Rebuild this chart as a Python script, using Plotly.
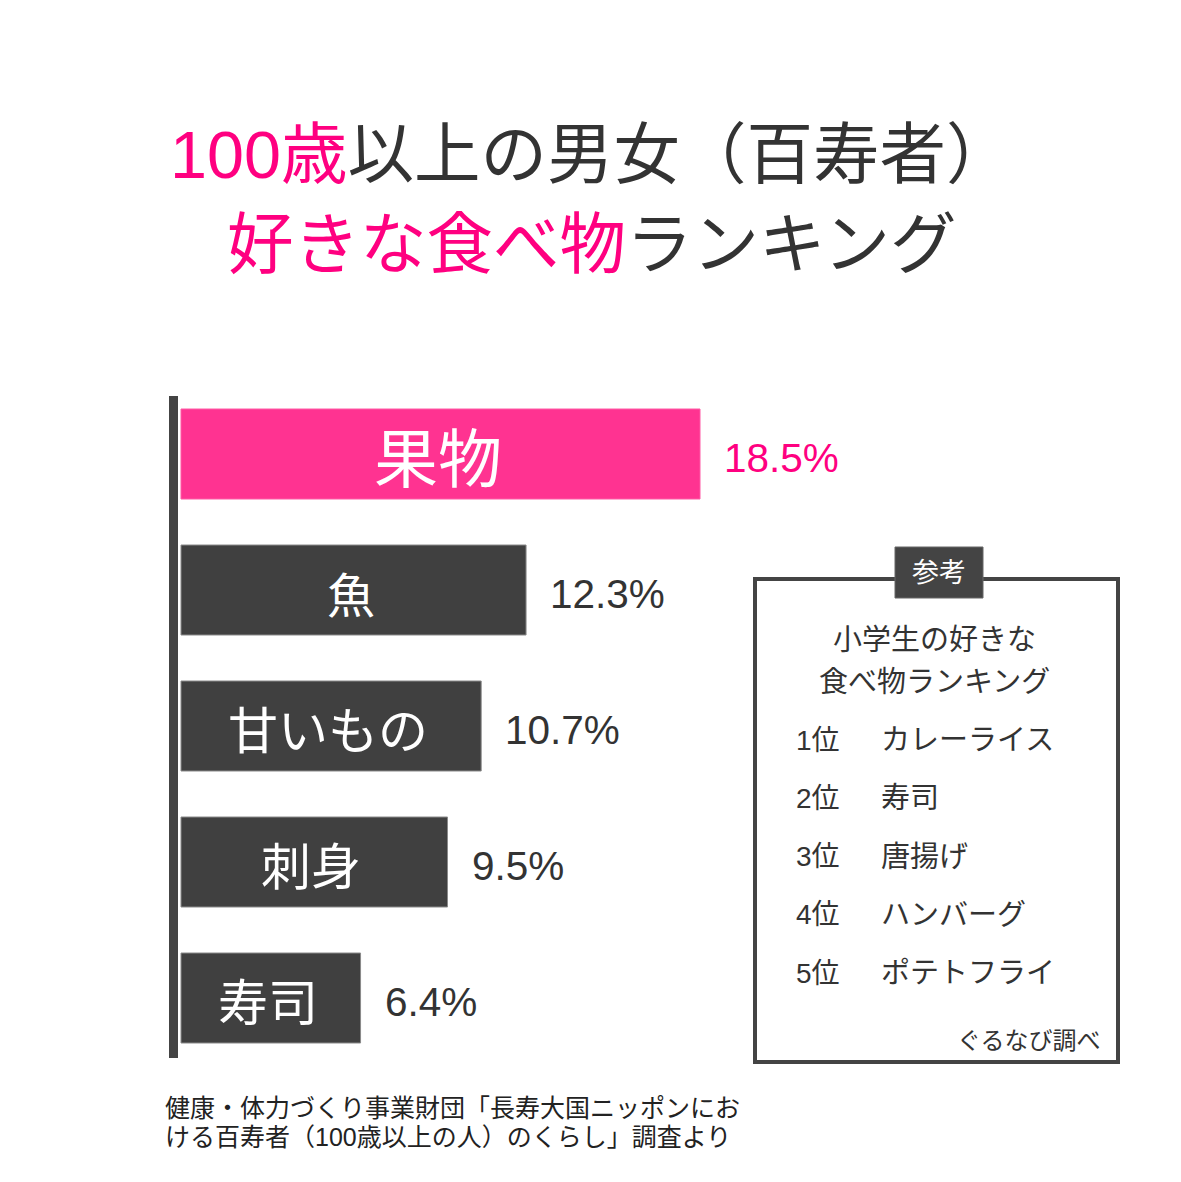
import plotly.graph_objects as go

W, H = 1181, 1182

# ---- data ----
categories = ["果物", "魚", "甘いもの", "刺身", "寿司"]
values = [18.5, 12.3, 10.7, 9.5, 6.4]
value_labels = ["18.5%", "12.3%", "10.7%", "9.5%", "6.4%"]
ref_ranks = ["1位", "2位", "3位", "4位", "5位"]
ref_items = ["カレーライス", "寿司", "唐揚げ", "ハンバーグ", "ポテトフライ"]

PINK_BAR = "#FF3391"
PINK_TXT = "#FF0080"
DARK = "#404040"
TXT = "#333333"
FONT = "Liberation Sans, Noto Sans CJK JP, sans-serif"


def px(x):
    return x / W


def py(y):
    return 1 - y / H


bar_colors = [PINK_BAR] + [DARK] * (len(values) - 1)
line_colors = ["#FF5AA5"] + ["#8a8a8a"] * (len(values) - 1)
label_sizes = [64, 48, 50, 50, 50]

scale = 519 / 18.5  # px per percent
x0_px = 181
x_range = [-x0_px / scale, (W - x0_px) / scale]
y_range = [(H - 454) / 136, -454 / 136]

fig = go.Figure()
fig.add_trace(go.Bar(
    y=categories, x=values, orientation="h",
    width=90 / 136,
    marker=dict(color=bar_colors, line=dict(color=line_colors, width=1)),
    hoverinfo="skip",
))

annotations = []
# labels inside bars (centred on each bar via the axis scale)
for i, (c, v) in enumerate(zip(categories, values)):
    annotations.append(dict(
        x=v / 2, y=c, xref="x", yref="y", text=c, showarrow=False,
        xanchor="center", yanchor="middle", xshift=-3, yshift=-6,
        font=dict(size=label_sizes[i], color="white", family=FONT),
    ))
# value labels outside bars
for i, (c, v, lab) in enumerate(zip(categories, values, value_labels)):
    annotations.append(dict(
        x=v, y=c, xref="x", yref="y", text=lab, showarrow=False,
        xanchor="left", yanchor="middle", xshift=22, yshift=-4,
        font=dict(size=40.5, color=PINK_TXT if i == 0 else TXT, family=FONT),
    ))

# title
annotations.append(dict(
    x=px(591), y=py(155), xref="paper", yref="paper", showarrow=False,
    xanchor="center", yanchor="middle",
    text=f"<span style='color:{PINK_TXT}'>100歳</span>以上の男女（百寿者）",
    font=dict(size=66.5, color=TXT, family=FONT),
))
annotations.append(dict(
    x=px(592), y=py(245), xref="paper", yref="paper", showarrow=False,
    xanchor="center", yanchor="middle",
    text=f"<span style='color:{PINK_TXT}'>好きな食べ物</span>ランキング",
    font=dict(size=66.5, color=TXT, family=FONT),
))

# reference box texts
annotations.append(dict(
    x=px(939), y=py(573), xref="paper", yref="paper", showarrow=False,
    xanchor="center", yanchor="middle", text="参考",
    font=dict(size=27, color="white", family=FONT),
))
annotations.append(dict(
    x=px(934), y=py(640), xref="paper", yref="paper", showarrow=False,
    xanchor="center", yanchor="middle", text="小学生の好きな",
    font=dict(size=29, color=TXT, family=FONT),
))
annotations.append(dict(
    x=px(934), y=py(682), xref="paper", yref="paper", showarrow=False,
    xanchor="center", yanchor="middle", text="食べ物ランキング",
    font=dict(size=29, color=TXT, family=FONT),
))
for i, (r, it) in enumerate(zip(ref_ranks, ref_items)):
    yy = 740 + 58.3 * i
    annotations.append(dict(
        x=px(794), y=py(yy), xref="paper", yref="paper", showarrow=False,
        xanchor="left", yanchor="middle", text=r,
        font=dict(size=28, color=TXT, family=FONT),
    ))
    annotations.append(dict(
        x=px(879), y=py(yy), xref="paper", yref="paper", showarrow=False,
        xanchor="left", yanchor="middle", text=it,
        font=dict(size=29, color=TXT, family=FONT),
    ))
annotations.append(dict(
    x=px(1103), y=py(1040), xref="paper", yref="paper", showarrow=False,
    xanchor="right", yanchor="middle", text="ぐるなび調べ",
    font=dict(size=24, color=TXT, family=FONT),
))

# footnote
annotations.append(dict(
    x=px(163), y=py(1108), xref="paper", yref="paper", showarrow=False,
    xanchor="left", yanchor="middle",
    text="健康・体力づくり事業財団「長寿大国ニッポンにお",
    font=dict(size=25, color="#222222", family=FONT),
))
annotations.append(dict(
    x=px(163), y=py(1137), xref="paper", yref="paper", showarrow=False,
    xanchor="left", yanchor="middle",
    text="ける百寿者（100歳以上の人）のくらし」調査より",
    font=dict(size=25, color="#222222", family=FONT),
))

shapes = [
    # vertical axis bar
    dict(type="rect", xref="paper", yref="paper",
         x0=px(169), x1=px(178), y0=py(1058), y1=py(396),
         fillcolor="#444444", line=dict(width=0), layer="above"),
    # reference box
    dict(type="rect", xref="paper", yref="paper",
         x0=px(755), x1=px(1118), y0=py(1062), y1=py(579),
         fillcolor="rgba(0,0,0,0)", line=dict(color="#444444", width=4)),
    # reference tag
    dict(type="rect", xref="paper", yref="paper",
         x0=px(895), x1=px(983), y0=py(598), y1=py(547),
         fillcolor="#444444", line=dict(color="#666666", width=1)),
]

fig.update_layout(
    width=W, height=H,
    margin=dict(l=0, r=0, t=0, b=0),
    paper_bgcolor="white", plot_bgcolor="white",
    showlegend=False,
    xaxis=dict(range=x_range, visible=False, fixedrange=True),
    yaxis=dict(range=y_range, visible=False, fixedrange=True,
               categoryorder="array", categoryarray=categories),
    annotations=annotations,
    shapes=shapes,
    font=dict(family=FONT),
)

fig.write_html("out.html", config={"displayModeBar": False})
